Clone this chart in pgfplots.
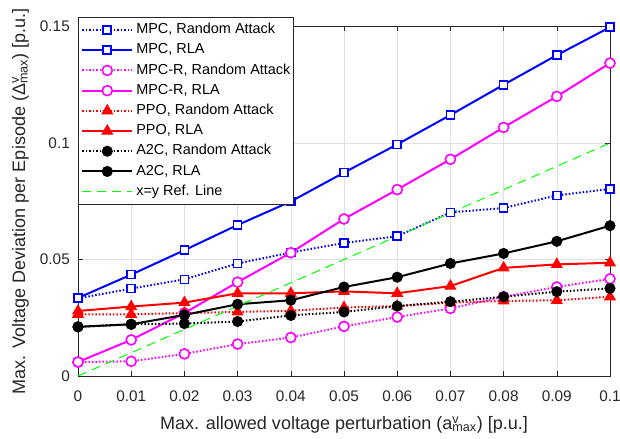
\documentclass[border=0pt]{standalone}
\usepackage{fontspec}
\setmainfont{Liberation Sans}
\usepackage{pgfplots}
\pgfplotsset{compat=1.18}
\definecolor{mblue}{rgb}{0,0,1}
\definecolor{mmag}{rgb}{1,0,1}
\definecolor{mred}{rgb}{1,0,0}
\definecolor{mgreen}{rgb}{0,1,0}
\begin{document}
\begin{tikzpicture}
\begin{axis}[
  scale only axis, width=532bp, height=349.5bp,
  xmin=0, xmax=0.1, ymin=0, ymax=0.15,
  xtick={0,0.01,0.02,0.03,0.04,0.05,0.06,0.07,0.08,0.09,0.1},
  xticklabels={0,0.01,0.02,0.03,0.04,0.05,0.06,0.07,0.08,0.09,0.1},
  ytick={0,0.05,0.1,0.15},
  yticklabels={0,0.05,0.1,0.15},
  grid=major, grid style={black!12, line width=0.6bp},
  tick align=inside, major tick length=5bp,
  axis line style={black!85, line width=0.6bp},
  tick style={black!85, line width=0.6bp},
  /pgf/number format/assume math mode=true,
  ticklabel style={font=\fontsize{15.4}{18}\selectfont, text=black!85},
  xticklabel style={anchor=base, yshift=-25bp},
  yticklabel style={anchor=east, inner xsep=0bp, xshift=-8bp},
  label style={font=\fontsize{18.1}{21}\selectfont, text=black!85},
  xlabel style={at={(axis description cs:0.5,0)}, anchor=base, yshift=-53.3bp},
  ylabel style={at={(axis description cs:-0.0996,0.5)}, anchor=base},
  xlabel={Max. allowed voltage perturbation (a\rlap{\textsuperscript{v}}\textsubscript{max}) [p.u.]},
  ylabel={Max. Voltage Deviation per Episode (Δ\rlap{\textsuperscript{v}}\textsubscript{max}) [p.u.]},
  legend cell align=left,
  legend style={at={([yshift=9bp]rel axis cs:0,1)}, anchor=north west, draw=black!85, line width=0.6bp,
    font=\fontsize{14.5}{17}\selectfont, inner xsep=3bp, inner ysep=5.5bp, row sep=6.7bp, column sep=3bp,
    nodes={inner sep=0bp, text height=10.5bp, text depth=3bp}},
  legend image code/.code={\draw[mark repeat=2,mark phase=2] plot coordinates {(0bp,0bp)(25bp,0bp)(50bp,0bp)};},
  every axis plot/.append style={line width=2bp},
]
% MPC, Random Attack
\addplot[mblue, dash pattern=on 1.5bp off 2bp, mark=square*, mark size=4bp, mark options={solid, fill=white, line width=1.6bp}] coordinates {
(0,0.0333)(0.01,0.0375)(0.02,0.0415)(0.03,0.0483)(0.04,0.053)(0.05,0.0571)(0.06,0.060)(0.07,0.0702)(0.08,0.0721)(0.09,0.0775)(0.1,0.0803)};
\addlegendentry{MPC, Random Attack}
% MPC, RLA
\addplot[mblue, mark=square*, mark size=4bp, mark options={solid, fill=white, line width=1.6bp}] coordinates {
(0,0.0335)(0.01,0.0435)(0.02,0.054)(0.03,0.0648)(0.04,0.0749)(0.05,0.0873)(0.06,0.0994)(0.07,0.112)(0.08,0.125)(0.09,0.1377)(0.1,0.1497)};
\addlegendentry{MPC, RLA}
% MPC-R, Random Attack
\addplot[mmag, dash pattern=on 1.5bp off 2bp, mark=*, mark size=5bp, mark options={solid, fill=white, line width=1.6bp}] coordinates {
(0,0.006)(0.01,0.0063)(0.02,0.0095)(0.03,0.0137)(0.04,0.0165)(0.05,0.0213)(0.06,0.0253)(0.07,0.029)(0.08,0.034)(0.09,0.0382)(0.1,0.0417)};
\addlegendentry{MPC-R, Random Attack}
% MPC-R, RLA
\addplot[mmag, mark=*, mark size=5bp, mark options={solid, fill=white, line width=1.6bp}] coordinates {
(0,0.006)(0.01,0.0155)(0.02,0.027)(0.03,0.0403)(0.04,0.0529)(0.05,0.0674)(0.06,0.080)(0.07,0.093)(0.08,0.1067)(0.09,0.120)(0.1,0.1343)};
\addlegendentry{MPC-R, RLA}
% PPO, Random Attack
\addplot[mred, dash pattern=on 1.5bp off 2bp, mark=triangle*, mark size=6bp, mark options={solid, line width=1bp}] coordinates {
(0,0.0265)(0.01,0.0265)(0.02,0.027)(0.03,0.0275)(0.04,0.028)(0.05,0.0294)(0.06,0.030)(0.07,0.0315)(0.08,0.0322)(0.09,0.0325)(0.1,0.034)};
\addlegendentry{PPO, Random Attack}
% PPO, RLA
\addplot[mred, mark=triangle*, mark size=6bp, mark options={solid, line width=1bp}] coordinates {
(0,0.0279)(0.01,0.0298)(0.02,0.0315)(0.03,0.0355)(0.04,0.0355)(0.05,0.0363)(0.06,0.0355)(0.07,0.0386)(0.08,0.0464)(0.09,0.0479)(0.1,0.0486)};
\addlegendentry{PPO, RLA}
% A2C, Random Attack
\addplot[black, dash pattern=on 1.5bp off 2bp, mark=*, mark size=4.5bp, mark options={solid}] coordinates {
(0,0.0211)(0.01,0.0222)(0.02,0.0225)(0.03,0.0234)(0.04,0.026)(0.05,0.0275)(0.06,0.030)(0.07,0.0319)(0.08,0.034)(0.09,0.0362)(0.1,0.0376)};
\addlegendentry{A2C, Random Attack}
% A2C, RLA
\addplot[black, mark=*, mark size=4.5bp, mark options={solid}] coordinates {
(0,0.0211)(0.01,0.0222)(0.02,0.0262)(0.03,0.0308)(0.04,0.0325)(0.05,0.0382)(0.06,0.0424)(0.07,0.0483)(0.08,0.0526)(0.09,0.0578)(0.1,0.0645)};
\addlegendentry{A2C, RLA}
% x=y reference
\addplot[mgreen, line width=1bp, dash pattern=on 9bp off 6bp] coordinates {(0,0)(0.1,0.1)};
\addlegendentry{x=y Ref. Line}
\end{axis}
\pgfresetboundingbox
\path ([shift={(-78bp,-63bp)}]current axis.south west) rectangle ([shift={(10bp,26.5bp)}]current axis.north east);
\end{tikzpicture}
\end{document}
